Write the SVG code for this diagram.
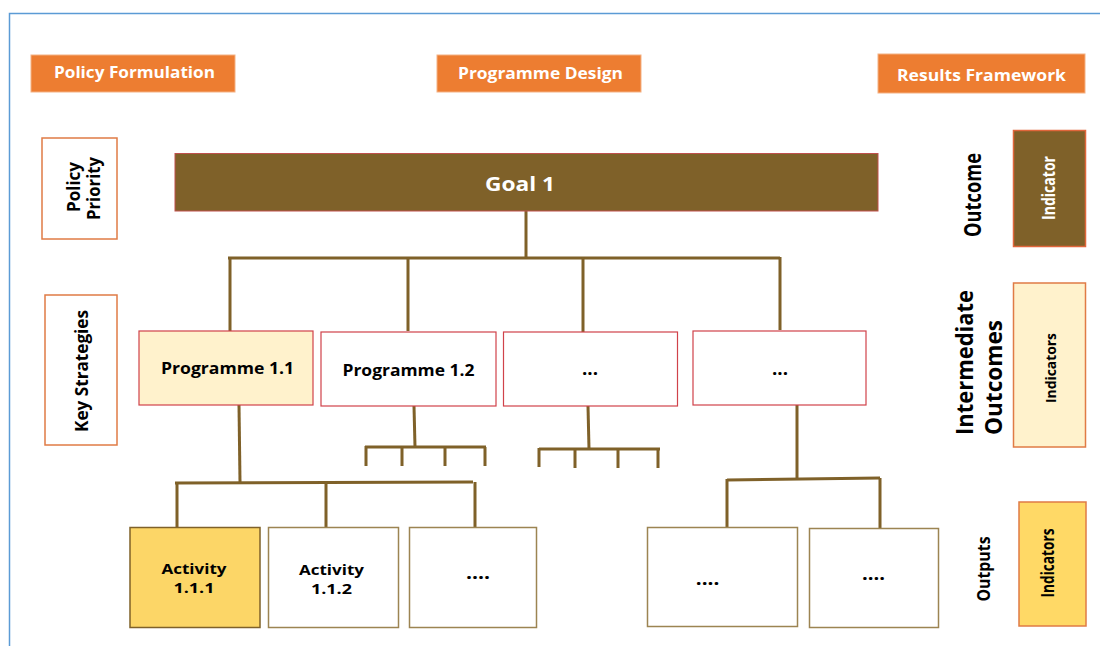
<svg xmlns="http://www.w3.org/2000/svg" width="1100" height="646" viewBox="0 0 1100 646">
<style>
text{font-family:"Open Sans",Lato,"Liberation Sans",sans-serif;font-weight:bold;text-anchor:middle;fill:#000}
.hdr{fill:#ED7D31;stroke:#F4B183;stroke-width:1}
.hdrt{fill:#fff;font-size:15.5px}
.side{fill:#fff;stroke:#E07B45;stroke-width:1.5}
.prog{stroke:#D0424A;stroke-width:1.2}
.act{fill:#fff;stroke:#9C8452;stroke-width:1.5}
.f15{font-size:15.5px}
.fa{font-size:15px}
.dots{font-size:18px}
.conn path{fill:none;stroke:#7F6129;stroke-width:3}
</style>
<rect width="1100" height="646" fill="#fff"/>
<path d="M9.5 646V13.5H1100" fill="none" stroke="#5B9BD5" stroke-width="1.5"/>

<g id="hdr-policy"><rect class="hdr" x="31" y="55" width="204" height="37"/><text class="hdrt" x="134.5" y="78" textLength="161" lengthAdjust="spacingAndGlyphs">Policy Formulation</text></g>
<g id="hdr-programme"><rect class="hdr" x="437" y="55" width="204" height="37"/><text class="hdrt" x="540.5" y="79" textLength="165" lengthAdjust="spacingAndGlyphs">Programme Design</text></g>
<g id="hdr-results"><rect class="hdr" x="878" y="54" width="207" height="39"/><text class="hdrt" x="981.5" y="80.5" textLength="169" lengthAdjust="spacingAndGlyphs">Results Framework</text></g>

<g id="policy-priority"><rect class="side" x="42" y="138" width="75" height="101"/>
<text style="font-size:18px" transform="translate(80,187) rotate(-90)" x="0" y="0" textLength="50" lengthAdjust="spacingAndGlyphs">Policy</text>
<text style="font-size:18px" transform="translate(100,188.5) rotate(-90)" x="0" y="0" textLength="63" lengthAdjust="spacingAndGlyphs">Priority</text></g>
<g id="key-strategies"><rect class="side" x="45" y="295" width="72" height="150"/>
<text style="font-size:18px" transform="translate(88,371) rotate(-90)" x="0" y="0" textLength="122" lengthAdjust="spacingAndGlyphs">Key Strategies</text></g>

<g class="conn" id="connectors">
<path d="M526 211V257"/>
<path d="M228 258H780"/>
<path d="M230 258V331M408 258V331M583 257V333M780 257V330"/>
<path d="M239 405L240 482"/>
<path d="M175 483L473 482"/>
<path d="M177 482V528M326 482V527M475 482V527"/>
<path d="M414 406L415 447"/>
<path d="M365 447H486"/>
<path d="M366 446V466M402 447V466M445 447V466M485 447V466"/>
<path d="M588 406L589 449"/>
<path d="M539 449H660"/>
<path d="M539 448V467M575 449V468M618 449V468M658 449V468"/>
<path d="M797 405V479"/>
<path d="M727 480L880 478"/>
<path d="M727 479V527M880 478V529"/>
</g>

<g id="goal1"><rect x="175" y="153.5" width="703" height="57.5" fill="#7F6129" stroke="#C0504D" stroke-width="1"/><text x="520" y="190.5" style="fill:#fff;font-size:19.5px" textLength="70" lengthAdjust="spacingAndGlyphs">Goal 1</text></g>

<g id="prog11"><rect class="prog" x="139" y="331" width="174" height="74" fill="#FFF2CC"/><text class="f15" x="227.5" y="374" textLength="133" lengthAdjust="spacingAndGlyphs">Programme 1.1</text></g>
<g id="prog12"><rect class="prog" x="321" y="332" width="175" height="74" fill="#fff"/><text class="f15" x="408.5" y="376" textLength="132" lengthAdjust="spacingAndGlyphs">Programme 1.2</text></g>
<g id="prog13"><rect class="prog" x="503.5" y="332" width="174" height="74" fill="#fff"/><text class="dots" x="590" y="375" textLength="16" lengthAdjust="spacingAndGlyphs">...</text></g>
<g id="prog14"><rect class="prog" x="693" y="331" width="173" height="74" fill="#fff"/><text class="dots" x="780" y="375" textLength="16" lengthAdjust="spacingAndGlyphs">...</text></g>

<g id="act111"><rect x="130" y="527.5" width="130" height="100" fill="#FCD667" stroke="#7F6129" stroke-width="1.5"/><text class="fa"><tspan x="194" y="574" textLength="65" lengthAdjust="spacingAndGlyphs">Activity</tspan><tspan x="194" y="592.5" textLength="41" lengthAdjust="spacingAndGlyphs">1.1.1</tspan></text></g>
<g id="act112"><rect class="act" x="268.5" y="527.5" width="130" height="100"/><text class="fa"><tspan x="331.5" y="575" textLength="65" lengthAdjust="spacingAndGlyphs">Activity</tspan><tspan x="331.5" y="593.5" textLength="41" lengthAdjust="spacingAndGlyphs">1.1.2</tspan></text></g>
<g id="act113"><rect class="act" x="409.5" y="527.5" width="127" height="100"/><text class="dots" x="478" y="579" textLength="24" lengthAdjust="spacingAndGlyphs">....</text></g>
<g id="out1"><rect class="act" x="647.5" y="527.5" width="150" height="99"/><text class="dots" x="707.5" y="585" textLength="23.5" lengthAdjust="spacingAndGlyphs">....</text></g>
<g id="out2"><rect class="act" x="809.5" y="528.5" width="129" height="99"/><text class="dots" x="873.5" y="580" textLength="23" lengthAdjust="spacingAndGlyphs">....</text></g>

<g id="outcome"><text style="font-size:23px" transform="translate(981,195) rotate(-90)" x="0" y="0" textLength="84" lengthAdjust="spacingAndGlyphs">Outcome</text>
<rect x="1013.5" y="130.5" width="72" height="116" fill="#7F6129" stroke="#E0663B" stroke-width="1.5"/>
<text style="fill:#fff;font-size:17px" transform="translate(1055,188) rotate(-90)" x="0" y="0" textLength="64" lengthAdjust="spacingAndGlyphs">Indicator</text></g>

<g id="intermediate">
<text style="font-size:24px;text-anchor:start" transform="translate(973,435) rotate(-90)" x="0" y="0" textLength="145" lengthAdjust="spacingAndGlyphs">Intermediate</text>
<text style="font-size:24px;text-anchor:start" transform="translate(1002,435) rotate(-90)" x="0" y="0" textLength="115" lengthAdjust="spacingAndGlyphs">Outcomes</text>
<rect x="1013.5" y="283" width="72" height="164" fill="#FFF2CC" stroke="#E07B45" stroke-width="1.5"/>
<text style="font-size:15px" transform="translate(1056,368) rotate(-90)" x="0" y="0" textLength="70" lengthAdjust="spacingAndGlyphs">Indicators</text></g>

<g id="outputs"><text style="font-size:18px" transform="translate(990,569) rotate(-90)" x="0" y="0" textLength="65" lengthAdjust="spacingAndGlyphs">Outputs</text>
<rect x="1019" y="502" width="67" height="124" fill="#FFD966" stroke="#E07B45" stroke-width="1.5"/>
<text style="font-size:17px" transform="translate(1054,563) rotate(-90)" x="0" y="0" textLength="69" lengthAdjust="spacingAndGlyphs">Indicators</text></g>
</svg>
